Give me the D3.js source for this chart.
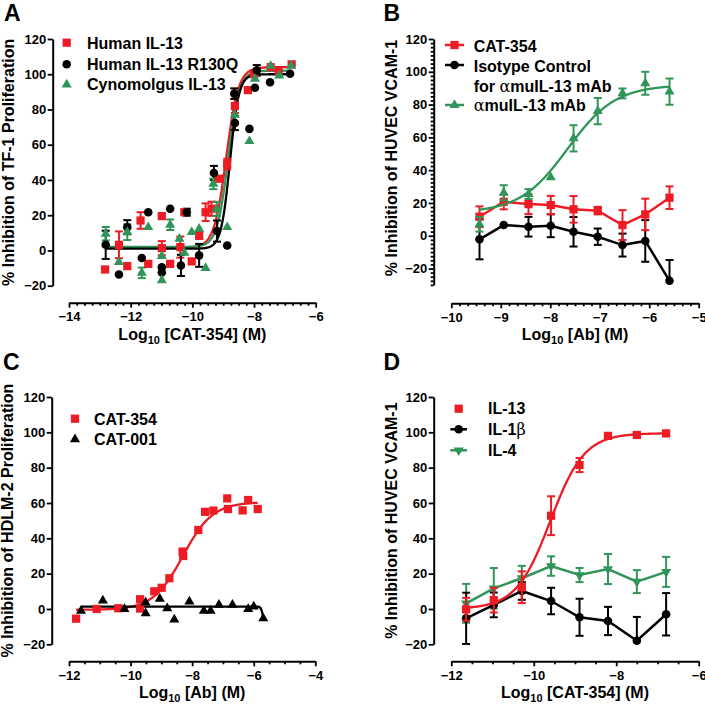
<!DOCTYPE html>
<html><head><meta charset="utf-8">
<script src="https://cdn.jsdelivr.net/npm/d3@7"></script>
<style>
body{margin:0;background:#fff}
text{font-family:"Liberation Sans",Arial,Helvetica,sans-serif;font-weight:bold;fill:#000}
</style>
</head><body><script>
// ---------------- DATA ----------------
// Panel A: [log10 conc, % inhibition, SEM]
const aHumanIL13 = [[-12.83,-10.8,0],[-12.38,3.2,7.6],[-12.11,-8.9,0],[-11.68,17,4.7],[-11.43,-7.6,0],[-10.99,19.5,0],[-10.99,1.3,4],[-10.72,-7.6,0],[-10.39,1.9,6],[-10.26,21.7,0],[-10.02,-6.2,0],[-9.78,8.5,2],[-9.57,21.7,5],[-9.38,23.7,4],[-9.14,40.7,0],[-8.87,49,3],[-8.62,82,4],[-8.2,91,0],[-8.0,100,0],[-7.46,104,0],[-7.2,102,0],[-6.78,105.6,0]];
const aHumanR130Q = [[-12.81,3.2,8],[-12.38,-13.6,0],[-12.11,13.2,4],[-11.64,-4.3,0],[-11.43,21.7,0],[-10.99,-9.5,0],[-10.99,-12.5,0],[-10.72,23.7,0],[-10.37,-8.5,6],[-10.18,21.7,2],[-9.78,-2.8,6.5],[-9.3,44,4],[-9.2,11,6],[-8.87,2.8,0],[-8.64,89,3],[-8.62,72.3,4],[-8.15,69,0],[-7.97,92.3,0],[-7.91,102.2,3],[-7.48,95.5,0],[-6.83,100.3,0]];
const aCynoIL13 = [[-12.81,9.5,3.8],[-12.38,-6.6,0],[-12.11,10.4,4.5],[-11.64,-12.7,3],[-11.43,13.2,0],[-10.99,-3.2,0],[-10.99,-17,0],[-10.72,14.6,3],[-10.42,6.6,0],[-10.26,-1.3,0],[-10.02,10.4,0],[-9.78,12.3,0],[-9.57,-10,0],[-9.32,37.8,3],[-9.21,23.6,4],[-8.87,13.2,0],[-8.62,77,4],[-8.15,62,0],[-7.97,97.4,0],[-7.46,104.7,0],[-7.18,99.3,0],[-6.8,104.8,0]];
// Panel A fitted 4PL parameters [bottom, top, logEC50, hill]
const aFitHuman = [1.5,104,-8.9,2.2];
const aFitR130Q = [1.0,100,-8.78,3.0];
const aFitCyno = [2.0,102,-8.84,2.4];

// Panel B
const bLogAb = [-9.43,-8.94,-8.44,-7.99,-7.53,-7.04,-6.54,-6.08,-5.59];
const bCAT354 = [11.6,20.7,19.3,18.7,16.1,15.3,6.5,13,23.2];
const bCAT354Err = [6.3,4.6,6.1,5.6,8.1,2.3,9.1,9.6,6.9];
const bIsotype = [-2.2,6.5,5.5,6.1,2.4,-0.6,-5.7,-3.2,-27.5];
const bIsotypeErr = [12.2,0,6,7,9,5,7,12.7,12.7];
const bMuIL13 = [7,26.2,25.4,35.6,59.4,76,86.8,93,87.9];
const bMuIL13Err = [4.5,4.6,3,0,8,8,3,7,8];
const bFitMuIL13 = [14,92,-7.65,0.9];

// Panel C: [log10 conc, % inhibition]
const cCAT354 = [[-11.77,-5.5],[-11.1,0],[-10.4,0.4],[-9.69,5.5],[-9.69,0.2],[-9.23,10],[-8.99,12],[-8.74,17.4],[-8.31,32.5],[-8.29,30],[-7.8,44.7],[-7.58,55],[-7.31,55.7],[-6.86,62.6],[-6.84,56.6],[-6.36,55.8],[-6.18,61.7],[-5.87,56.6]];
const cCAT001 = [[-11.61,-1.1],[-10.9,4.7],[-10.2,0],[-9.51,3.6],[-9.51,-2.5],[-9.05,5.7],[-8.81,0.4],[-8.58,-6],[-8.09,4.2],[-7.62,-1],[-7.4,-1],[-7.13,2.3],[-6.69,2.3],[-6.18,0],[-6.0,1.3],[-5.69,-5.3]];
const cFitCAT354 = [-0.5,60.5,-8.3,0.9];
const cFitCAT001 = [1.3,-8,-5.71,15];

// Panel D
const dLogCAT354 = [-11.64,-10.97,-10.29,-9.58,-8.89,-8.2,-7.5,-6.79];
const dIL13 = [-0.2,5,12.3,52.8,81.5,98,98.5,99.4];
const dIL13Err = [6.5,7,9,11,4,1,0,0];
const dIL1b = [-5.3,2.3,10.2,4.5,-4.7,-6.8,-18,-3];
const dIL1bErr = [14.5,7,5,7.5,10.5,8,13.5,12];
const dIL4 = [3.2,11.7,17.4,24.3,19.2,22.6,15.5,21];
const dIL4Err = [11,11.5,7,5.5,4,8.5,6.5,8.5];
const dFitIL13 = [0,99.5,-9.6,1.05];

// Tick labels
const aXTicks = [-14,-12,-10,-8,-6];
const bXTicks = [-10,-9,-8,-7,-6,-5];
const cXTicks = [-12,-10,-8,-6,-4];
const dXTicks = [-12,-10,-8,-6];
const yTicks = [-20,0,20,40,60,80,100,120];

// ---------------- DRAWING ----------------
const RED = "#ed1c24", GREEN = "#2f9558", BLACK = "#000000";
const svg = d3.select("body").append("svg").attr("width",705).attr("height",705);
svg.append("rect").attr("width",705).attr("height",705).attr("fill","#fff");

function minorRange(a,b,step,majors){
  const out=[]; const n=Math.round((b-a)/step);
  for(let i=0;i<=n;i++){const v=a+i*step; if(!majors.some(m=>Math.abs(m-v)<1e-6)) out.push(v);}
  return out;
}

function panel(p){
  const g = svg.append("g");
  const x = d3.scaleLinear().domain(p.xDom).range(p.xRng);
  const y = d3.scaleLinear().domain(p.yDom).range(p.yRng);
  // x axis
  const ax = g.append("g").attr("transform",`translate(0,${p.xAxisY})`);
  ax.append("g").call(d3.axisBottom(x).tickValues(minorRange(p.xDom[0],p.xDom[1],p.xMinorStep,p.xTicks)).tickSize(3).tickFormat(""))
    .call(s=>s.select(".domain").remove());
  ax.append("g").call(d3.axisBottom(x).tickValues(p.xTicks).tickSize(5).tickSizeOuter(0).tickPadding(4.5).tickFormat(d3.format("d")));
  // y axis
  const ay = g.append("g").attr("transform",`translate(${p.yAxisX},0)`);
  if(p.yMinorStep){
    ay.append("g").call(d3.axisLeft(y).tickValues(minorRange(p.yDom[0],p.yDom[1],p.yMinorStep,yTicks)).tickSize(3).tickFormat(""))
      .call(s=>s.select(".domain").remove());
  }
  ay.append("g").call(d3.axisLeft(y).tickValues(yTicks).tickSize(5).tickSizeOuter(0).tickPadding(1.5).tickFormat(d3.format("d")));
  g.selectAll(".domain").attr("stroke","#000").attr("stroke-width",2);
  g.selectAll(".tick line").attr("stroke","#000").attr("stroke-width",1.8);
  g.selectAll(".tick text").attr("font-size",13).attr("fill","#000");
  // titles
  const xt = g.append("text").attr("x",(p.xRng[0]+p.xRng[1])/2).attr("y",p.xAxisY+37)
    .attr("text-anchor","middle").attr("font-size",16);
  xt.append("tspan").text("Log");
  xt.append("tspan").attr("font-size",11).attr("dy",4).text("10");
  xt.append("tspan").attr("dy",-4).text(" " + p.xLabel);
  const ymid = (y(p.yDom[0]) + y(p.yDom[1]))/2;
  g.append("text").attr("transform",`translate(${p.yTitleX},${p.yTitleMid||ymid}) rotate(-90)`)
    .attr("text-anchor","middle").attr("font-size",16).text(p.yLabel);
  g.append("text").attr("x",p.letterX).attr("y",p.letterY).attr("font-size",23).text(p.letter);
  return {g,x,y};
}

const symSquare = d3.symbol().type(d3.symbolSquare).size(68);
const symCircle = d3.symbol().type(d3.symbolCircle).size(58);
const symTri = d3.symbol().type(d3.symbolTriangle).size(44);

function marker(g, kind, cx, cy, color){
  let path, rot = "";
  if(kind==="square") path = symSquare();
  else if(kind==="circle") path = symCircle();
  else { path = symTri(); if(kind==="tridown") rot = " rotate(180)"; }
  g.append("path").attr("d",path).attr("transform",`translate(${cx},${cy})${rot}`).attr("fill",color);
}

function errBars(P, pts, color){
  const [ymin,ymax] = P.y.domain();
  pts.forEach(([xv,v,e])=>{
    if(!e) return;
    const cx = P.x(xv);
    const hi = Math.min(v+e,ymax), lo = Math.max(v-e,ymin);
    P.g.append("line").attr("x1",cx).attr("x2",cx).attr("y1",P.y(lo)).attr("y2",P.y(hi))
      .attr("stroke",color).attr("stroke-width",2);
    if(v+e<=ymax) P.g.append("line").attr("x1",cx-4).attr("x2",cx+4).attr("y1",P.y(v+e)).attr("y2",P.y(v+e)).attr("stroke",color).attr("stroke-width",2);
    if(v-e>=ymin) P.g.append("line").attr("x1",cx-4).attr("x2",cx+4).attr("y1",P.y(v-e)).attr("y2",P.y(v-e)).attr("stroke",color).attr("stroke-width",2);
  });
}
function points(P, pts, kind, color){ pts.forEach(([xv,v])=>marker(P.g,kind,P.x(xv),P.y(v),color)); }
function connect(P, pts, color){
  P.g.append("path").datum(pts).attr("fill","none").attr("stroke",color).attr("stroke-width",2.5)
    .attr("d",d3.line().x(d=>P.x(d[0])).y(d=>P.y(d[1])));
}
function fitCurve(P, prm, from, to, color){
  const [lo,hi,ec,h] = prm;
  const xs = d3.range(from,to,0.01).concat([to]);
  const pts = xs.map(xv=>[xv, lo + (hi-lo)/(1+Math.pow(10,h*(ec-xv)))]);
  P.g.append("path").datum(pts).attr("fill","none").attr("stroke",color).attr("stroke-width",2.3)
    .attr("d",d3.line().x(d=>P.x(d[0])).y(d=>P.y(d[1])));
}
function zipErr(xs, vs, es){ return xs.map((xv,i)=>[xv,vs[i],es?es[i]:0]); }
function legendText(g, x, yb, parts){
  const t = g.append("text").attr("x",x).attr("y",yb).attr("font-size",16);
  parts.forEach(pt=>{
    const s = t.append("tspan").text(pt.t);
    if(pt.normal) s.attr("font-weight","normal").attr("font-family","DejaVu Serif, serif");
  });
}

// ----- Panel A -----
const A = panel({xDom:[-14,-6], xRng:[69,315.7], xAxisY:302.7, xTicks:aXTicks, xMinorStep:0.25,
  yDom:[-20,120], yRng:[285.7,39], yAxisX:52.7, yMinorStep:0,
  xLabel:"[CAT-354] (M)", yLabel:"% Inhibition of TF-1 Proliferation", yTitleX:14,
  letter:"A", letterX:4, letterY:21});
fitCurve(A, aFitHuman, -12.83, -6.78, RED);
fitCurve(A, aFitCyno, -12.83, -6.78, GREEN);
fitCurve(A, aFitR130Q, -12.83, -6.78, BLACK);
errBars(A, aHumanIL13, RED); errBars(A, aHumanR130Q, BLACK); errBars(A, aCynoIL13, GREEN);
points(A, aHumanIL13, "square", RED);
points(A, aHumanR130Q, "circle", BLACK);
points(A, aCynoIL13, "tri", GREEN);
marker(A.g,"square",66.7,42.7,RED); legendText(A.g,87,48.5,[{t:"Human IL-13"}]);
marker(A.g,"circle",66.7,64.3,BLACK); legendText(A.g,87,69.8,[{t:"Human IL-13 R130Q"}]);
marker(A.g,"tri",66.7,84.5,GREEN); legendText(A.g,87,90.3,[{t:"Cynomolgus IL-13"}]);

// ----- Panel B -----
const B = panel({xDom:[-10,-5], xRng:[451.3,698.7], xAxisY:303.3, xTicks:bXTicks, xMinorStep:1/6,
  yDom:[-30,120], yRng:[284.9,39], yAxisX:433.7, yMinorStep:2.5,
  xLabel:"[Ab] (M)", yLabel:"% Inhibition of HUVEC VCAM-1", yTitleX:397, yTitleMid:158,
  letter:"B", letterX:383.5, letterY:21});
const bIso = zipErr(bLogAb,bIsotype,bIsotypeErr), bCat = zipErr(bLogAb,bCAT354,bCAT354Err), bMu = zipErr(bLogAb,bMuIL13,bMuIL13Err);
connect(B, bIso, BLACK); errBars(B, bIso, BLACK); points(B, bIso, "circle", BLACK);
connect(B, bCat, RED); errBars(B, bCat, RED); points(B, bCat, "square", RED);
fitCurve(B, bFitMuIL13, -9.43, -5.59, GREEN); errBars(B, bMu, GREEN); points(B, bMu, "tri", GREEN);
[[45,RED,"square"],[65,BLACK,"circle"],[105,GREEN,"tri"]].forEach(([yy,c,k])=>{
  B.g.append("line").attr("x1",445).attr("x2",464).attr("y1",yy).attr("y2",yy).attr("stroke",c).attr("stroke-width",2.5);
  marker(B.g,k,454.5,yy,c);
});
legendText(B.g,473.7,51.7,[{t:"CAT-354"}]);
legendText(B.g,473.7,71.7,[{t:"Isotype Control"}]);
legendText(B.g,473.7,91.7,[{t:"for "},{t:"α",normal:true},{t:"muIL-13 mAb"}]);
legendText(B.g,473.7,110.7,[{t:"α",normal:true},{t:"muIL-13 mAb"}]);

// ----- Panel C -----
const C = panel({xDom:[-12,-4], xRng:[69,315.3], xAxisY:661.3, xTicks:cXTicks, xMinorStep:0.5,
  yDom:[-20,120], yRng:[644.3,397], yAxisX:51.7, yMinorStep:0,
  xLabel:"[Ab] (M)", yLabel:"% Inhibition of HDLM-2 Proliferation", yTitleX:13,
  letter:"C", letterX:3, letterY:370.3});
fitCurve(C, cFitCAT354, -11.77, -5.87, RED);
fitCurve(C, cFitCAT001, -11.61, -5.69, BLACK);
points(C, cCAT354, "square", RED);
points(C, cCAT001, "tri", BLACK);
marker(C.g,"square",75,418.7,RED); legendText(C.g,94,424.7,[{t:"CAT-354"}]);
marker(C.g,"tri",75,439.3,BLACK); legendText(C.g,94,444.7,[{t:"CAT-001"}]);

// ----- Panel D -----
const D = panel({xDom:[-12,-6], xRng:[451.3,698.7], xAxisY:661.3, xTicks:dXTicks, xMinorStep:0.5,
  yDom:[-20,120], yRng:[644.3,397], yAxisX:433.7, yMinorStep:0,
  xLabel:"[CAT-354] (M)", yLabel:"% Inhibition of HUVEC VCAM-1", yTitleX:397,
  letter:"D", letterX:383.5, letterY:370.3});
const dG = zipErr(dLogCAT354,dIL4,dIL4Err), dB = zipErr(dLogCAT354,dIL1b,dIL1bErr), dR = zipErr(dLogCAT354,dIL13,dIL13Err);
connect(D, dG, GREEN); errBars(D, dG, GREEN); points(D, dG, "tridown", GREEN);
connect(D, dB, BLACK); errBars(D, dB, BLACK); points(D, dB, "circle", BLACK);
fitCurve(D, dFitIL13, -11.64, -6.79, RED); errBars(D, dR, RED); points(D, dR, "square", RED);
marker(D.g,"square",458.7,408.7,RED); legendText(D.g,488,414.3,[{t:"IL-13"}]);
D.g.append("line").attr("x1",450.3).attr("x2",467).attr("y1",429.3).attr("y2",429.3).attr("stroke",BLACK).attr("stroke-width",2.5);
marker(D.g,"circle",458.7,429.3,BLACK); legendText(D.g,488,435.3,[{t:"IL-1"},{t:"β",normal:true}]);
D.g.append("line").attr("x1",450.3).attr("x2",467).attr("y1",450.3).attr("y2",450.3).attr("stroke",GREEN).attr("stroke-width",2.5);
marker(D.g,"tridown",458.7,450.3,GREEN); legendText(D.g,488,456,[{t:"IL-4"}]);
</script></body></html>
